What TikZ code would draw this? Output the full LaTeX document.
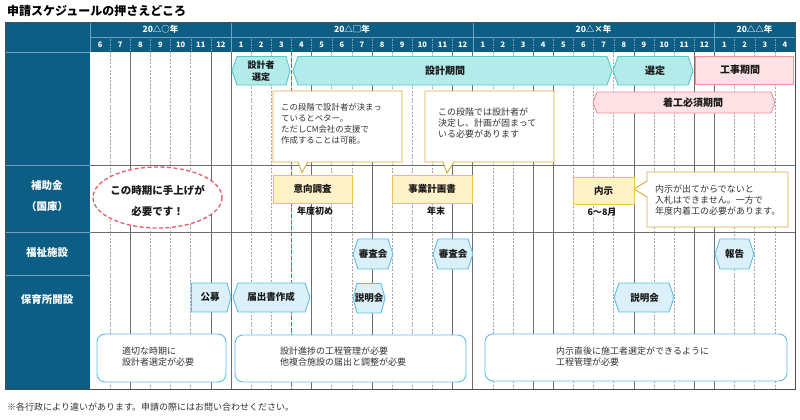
\documentclass[tikz,border=0pt]{standalone}
\usepackage{fontspec}
\setmainfont{Noto Sans CJK JP}
\usetikzlibrary{calc}

\definecolor{hdblue}{RGB}{13,94,133}
\definecolor{hdline}{RGB}{118,160,186}
\definecolor{gridc}{RGB}{110,110,110}
\definecolor{gridl}{RGB}{165,165,165}
\definecolor{cyanf}{RGB}{178,235,234}
\definecolor{cyand}{RGB}{84,202,204}
\definecolor{pinkf}{RGB}{253,226,229}
\definecolor{pinkd}{RGB}{240,146,155}
\definecolor{yelf}{RGB}{255,241,200}
\definecolor{yeld}{RGB}{240,196,76}
\definecolor{calld}{RGB}{214,170,56}
\definecolor{bluef}{RGB}{220,240,250}
\definecolor{blued}{RGB}{92,190,230}
\definecolor{memored}{RGB}{233,90,106}
\definecolor{redline}{RGB}{214,69,80}
\definecolor{txtgray}{RGB}{51,51,51}

\tikzset{
  yearlbl/.style={text=white,font=\fontsize{8.5}{10}\selectfont\bfseries,inner sep=0},
  monthlbl/.style={text=white,font=\fontsize{7.5}{9}\selectfont\bfseries,inner sep=0},
  sidelbl/.style={text=white,font=\fontsize{10.5}{21}\selectfont\bfseries,align=center,inner sep=0},
  boxlbl/.style={text=black!90,font=\fontsize{9.5}{12}\selectfont\bfseries,align=center,inner sep=0},
  notetxt/.style={text=txtgray,font=\fontsize{9}{11}\selectfont,align=left,anchor=west,inner sep=0},
  cyanbox/.style={fill=cyanf,draw=cyand,line width=0.9pt},
  pinkbox/.style={fill=pinkf,draw=pinkd,line width=0.9pt},
  yelbox/.style={fill=yelf,draw=yeld,line width=0.9pt},
  bluebox/.style={fill=bluef,draw=blued,line width=0.9pt},
  callbox/.style={fill=white,draw=calld,line width=0.9pt},
  noterect/.style={fill=white,draw=blued,line width=0.9pt,rounded corners=8pt},
  griddash/.style={gridl,line width=0.5pt,dash pattern=on 2pt off 1.5pt},
  gridsolid/.style={gridc,line width=0.7pt},
}

% hexagon bar: style, left x, right x, top y, bottom y, left depth, right depth
\newcommand{\hexa}[7]{%
  \draw[#1] (#2,{(#4+#5)/2}) -- ({#2+#6},#4) -- ({#3-#7},#4) -- (#3,{(#4+#5)/2})
    -- ({#3-#7},#5) -- ({#2+#6},#5) -- cycle;}

\begin{document}
\begin{tikzpicture}[x=1pt,y=-1pt]
\useasboundingbox (0,0) rectangle (800,420);
\node[anchor=west,inner sep=0,font=\fontsize{12}{14}\selectfont\bfseries] (title) at (7,11) {申請スケジュールの押さえどころ};

% header and left column
\fill[hdblue] (5,22) rectangle (795,52);
\fill[hdblue] (5,52) rectangle (90,389);
\draw[hdline] (90,37) -- (795,37);
\draw[hdline] (90,22) -- (90,52);
\foreach \k in {1,...,34}
  \draw[hdline,dash pattern=on 1.5pt off 1pt] ({90+\k*20.1429},37) -- ({90+\k*20.1429},52);
\foreach \k in {7,19,31}
  \draw[hdline] ({90+\k*20.1429},22) -- ({90+\k*20.1429},52);
\foreach \y in {52,165,232,275}
  \draw[hdline] (5,\y) -- (90,\y);
\node[yearlbl] (yA) at (160.5,29.5) {20△○年};
\node[yearlbl] (yB) at (352,29.5) {20△□年};
\node[yearlbl] (yC) at (593.5,29.5) {20△×年};
\node[yearlbl] (yD) at (754.5,29.5) {20△△年};
\foreach \m [count=\i from 0] in {6,7,8,9,10,11,12,1,2,3,4,5,6,7,8,9,10,11,12,1,2,3,4,5,6,7,8,9,10,11,12,1,2,3,4}
  \node[monthlbl] (m\i) at ({90+(\i+0.5)*20.1429},44.5) {\m};

% side labels
\node[sidelbl] (subsidy) at (47,196.5) {補助金\\（国庫）};
\node[sidelbl] (welfare) at (47,253) {福祉施設};
\node[sidelbl] (nursery) at (47,300) {保育所開設};

% grid
\foreach \k in {1,...,34}
  \draw[griddash] ({90+\k*20.1429},52) -- ({90+\k*20.1429},389);
\foreach \k in {2,6,7,11,14,18,19,22,23,27,30,31}
  \draw[gridsolid] ({90+\k*20.1429},52) -- ({90+\k*20.1429},389);
\draw[gridsolid] (90,165) -- (795,165);
\draw[gridsolid] (90,232) -- (795,232);
\draw[redline,line width=1.1pt,dash pattern=on 4pt off 2pt] ({90+10*20.1429},52) -- ({90+10*20.1429},389);
\draw[black!70,line width=0.8pt] (5,22) rectangle (795,389);

% plan row
\hexa{cyanbox}{232}{290}{56.5}{85}{5}{4}
\node[boxlbl,font=\fontsize{9}{12}\selectfont\bfseries] (selA) at (261,71) {設計者\\選定};
\hexa{cyanbox}{293}{612}{56.5}{85}{5}{5}
\node[boxlbl,font=\fontsize{10}{12}\selectfont\bfseries] (design) at (445,71) {設計期間};
\hexa{cyanbox}{613}{693}{56.5}{85}{5}{5}
\node[boxlbl,font=\fontsize{10}{12}\selectfont\bfseries] (selB) at (655,71) {選定};
\draw[pinkbox] (695,56) rectangle (793,84.5);
\node[boxlbl,font=\fontsize{10}{12}\selectfont\bfseries] (works) at (740,70) {工事期間};
\hexa{pinkbox}{593}{775}{92}{113}{4}{4}
\node[boxlbl,font=\fontsize{10}{12}\selectfont\bfseries] (start) at (693,102.5) {着工必須期間};

% callouts
\draw[callbox] (273,91) -- (402,91) -- (402,162) -- (308,162) -- (302,172.5) -- (298,162) -- (273,162) -- cycle;
\node[notetxt,font=\fontsize{8.4}{11}\selectfont] (call1) at (281,123.5) {この段階で設計者が決まっ\\ているとベター。\\ただしCM会社の支援で\\作成することは可能。};
\draw[callbox] (425,91) -- (554,91) -- (554,162) -- (454,162) -- (447,173) -- (443,162) -- (425,162) -- cycle;
\node[notetxt] (call2) at (438,123) {この段階では設計者が\\決定し、計画が固まって\\いる必要があります};
\draw[callbox] (647,172) -- (788,172) -- (788,227) -- (647,227) -- (647,197) -- (634,189) -- (647,181) -- cycle;
\node[notetxt] (call3) at (655,200.5) {内示が出てからでないと\\入札はできません。一方で\\年度内着工の必要があります。};

% subsidy row
\draw[memored,fill=white,line width=1.3pt,dash pattern=on 4pt off 2.5pt] (157.5,197.5) ellipse [x radius=64.5, y radius=30.5];
\node[boxlbl,font=\fontsize{10.5}{21}\selectfont\bfseries] (memo) at (157.5,200.5) {この時期に手上げが\\必要です！};
\draw[yelbox] (273,175) rectangle (352,203);
\node[boxlbl] (survey) at (312.5,189) {意向調査};
\node[boxlbl,font=\fontsize{9}{11}\selectfont\bfseries] (surveyT) at (315,211) {年度初め};
\draw[yelbox] (392,175) rectangle (472,203);
\node[boxlbl] (plan) at (432,189) {事業計画書};
\node[boxlbl,font=\fontsize{9}{11}\selectfont\bfseries] (planT) at (436,211) {年末};
\draw[yelbox] (573,177) rectangle (634,204);
\node[boxlbl] (naiji) at (603.5,190.5) {内示};
\node[boxlbl,font=\fontsize{9}{11}\selectfont\bfseries] (naijiT) at (602,212) {6～8月};

% welfare row
\hexa{bluebox}{353}{393}{239}{269}{5}{5}
\node[boxlbl] (rev1) at (373,254) {審査会};
\hexa{bluebox}{433}{473}{239}{269}{5}{5}
\node[boxlbl] (rev2) at (453,254) {審査会};
\hexa{bluebox}{715}{754}{239}{269}{5}{5}
\node[boxlbl] (report) at (734.5,254) {報告};

% nursery row
\hexa{bluebox}{191.5}{231}{283}{312}{0}{4}
\node[boxlbl] (koubo) at (210,297) {公募};
\hexa{bluebox}{233}{310}{283}{312}{5}{5}
\node[boxlbl] (todoke) at (271,297) {届出書作成};
\hexa{bluebox}{353}{385}{283.5}{313}{4}{4}
\node[boxlbl] (expl1) at (369,298) {説明会};
\hexa{bluebox}{614}{674}{283}{312}{5}{5}
\node[boxlbl] (expl2) at (644.5,297.5) {説明会};

\draw[noterect] (97,334) rectangle (226,382);
\node[notetxt] (note1) at (122,357) {適切な時期に\\設計者選定が必要};
\draw[noterect] (235,335) rectangle (466,382);
\node[notetxt] (note2) at (280,357) {設計進捗の工程管理が必要\\他複合施設の届出と調整が必要};
\draw[noterect] (485,334) rectangle (787,381);
\node[notetxt] (note3) at (556,356.5) {内示直後に施工者選定ができるように\\工程管理が必要};

\node[notetxt] (foot) at (7,407) {※各行政により違いがあります。申請の際にはお問い合わせください。};
\end{tikzpicture}
\end{document}
